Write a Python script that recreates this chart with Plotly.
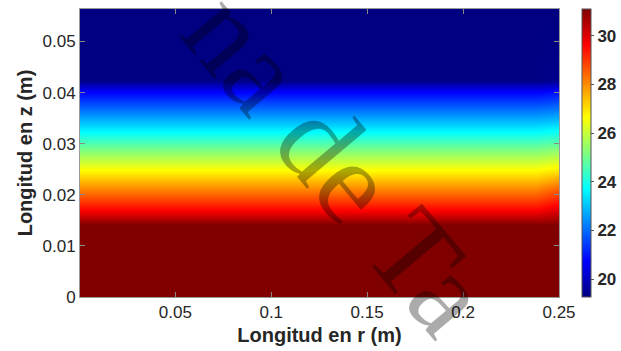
import plotly.graph_objects as go

# --- data ---
r_cols = [0.0, 0.238, 0.25]            # radial positions of profile columns (m)
z_vals = [0.0, 0.0141, 0.0170, 0.0209, 0.0249, 0.0288, 0.0323, 0.0362, 0.0401, 0.0425, 0.0564]  # axial positions (m)
T_center = [31.1, 31.1, 29.62, 28.14, 26.66, 25.18, 23.70, 22.22, 20.74, 19.30, 19.26]
T_edge   = [31.1, 31.1, 30.00, 28.60, 26.90, 25.35, 23.85, 22.35, 20.90, 19.40, 19.26]
x_ticks = [0.05, 0.1, 0.15, 0.2, 0.25]
x_tick_labels = ["0.05", "0.1", "0.15", "0.2", "0.25"]
y_ticks = [0, 0.01, 0.02, 0.03, 0.04, 0.05]
y_tick_labels = ["0", "0.01", "0.02", "0.03", "0.04", "0.05"]
cb_ticks = [20, 22, 24, 26, 28, 30]
T_min, T_max = 19.26, 31.1
watermark = "na de Ta"

profiles = [T_center, T_center, T_edge]
Z = [[profiles[j][i] for j in range(len(r_cols))] for i in range(len(z_vals))]

jet = [
    [0.0, "rgb(0,0,128)"],
    [0.125, "rgb(0,0,255)"],
    [0.375, "rgb(0,255,255)"],
    [0.625, "rgb(255,255,0)"],
    [0.875, "rgb(255,0,0)"],
    [1.0, "rgb(128,0,0)"],
]

W, H = 621, 351
L, R, T, B = 80, 62, 9, 54
pw = W - L - R
ph = H - T - B

fig = go.Figure(go.Heatmap(
    x=r_cols, y=z_vals, z=Z,
    colorscale=jet, zmin=T_min, zmax=T_max, zsmooth="best",
    colorbar=dict(
        x=(582 - L) / pw, xanchor="left", xpad=0,
        y=0.5, yanchor="middle", len=1, lenmode="fraction", ypad=0,
        thickness=9, outlinewidth=1, outlinecolor="#555555",
        tickvals=cb_ticks, ticks="outside", ticklen=3, tickcolor="#555555",
        tickfont=dict(family="Liberation Sans", size=17, color="#262626", weight="bold"),
    ),
    hoverinfo="skip",
))

axis_common = dict(
    showgrid=False, zeroline=False, showline=True, linecolor="#999999", linewidth=1,
    mirror="ticks", ticks="inside", ticklen=5, tickcolor="#888888", automargin=False,
    tickfont=dict(family="Liberation Sans", size=17, color="#262626"),
)

fig.update_xaxes(
    range=[0.0003, 0.25], tickvals=x_ticks, ticktext=x_tick_labels,
    title=dict(text="Longitud en r (m)", standoff=6,
               font=dict(family="Liberation Sans", size=20, color="#262626", weight="bold")),
    **axis_common,
)
fig.update_yaxes(
    range=[0, 0.05636], tickvals=y_ticks, ticktext=y_tick_labels,
    title=dict(text="Longitud en z (m)", standoff=4,
               font=dict(family="Liberation Sans", size=20, color="#262626", weight="bold")),
    **axis_common,
)

fig.add_annotation(
    text=watermark, xref="paper", yref="paper",
    x=(338 - L) / pw, y=(297 - 162) / ph,
    showarrow=False, textangle=50,
    font=dict(family="Liberation Serif", size=120, color="rgba(0,0,0,0.33)"),
)

fig.update_layout(
    width=W, height=H,
    margin=dict(l=L, r=R, t=T, b=B, pad=0, autoexpand=False),
    paper_bgcolor="white", plot_bgcolor="white",
    showlegend=False,
)

fig.write_html(
    "out.html",
    config={"displayModeBar": False, "staticPlot": True},
    post_script="document.body.style.margin='0';document.body.style.overflow='hidden';",
)
